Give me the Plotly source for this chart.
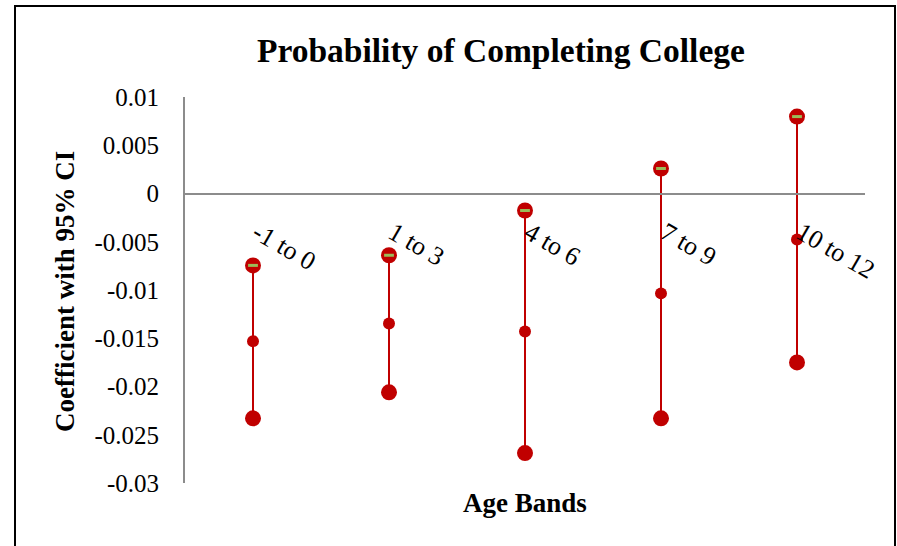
import plotly.graph_objects as go

# Age bands and the estimated coefficient with its 95% confidence interval
age_bands = ["-1 to 0", "1 to 3", "4 to 6", "7 to 9", "10 to 12"]
ci_upper = [-0.00745, -0.0064, -0.00176, 0.00259, 0.00797]
coef = [-0.0153, -0.01346, -0.01429, -0.01035, -0.00476]
ci_lower = [-0.0233, -0.0206, -0.0269, -0.0233, -0.0175]
y_ticks = [0.01, 0.005, 0, -0.005, -0.01, -0.015, -0.02, -0.025, -0.03]

RED = "#C00000"
SERIF = "Liberation Serif"

fig = go.Figure()

# vertical CI whiskers
xs, ys = [], []
for b, lo, hi in zip(age_bands, ci_lower, ci_upper):
    xs += [b, b, None]
    ys += [lo, hi, None]
fig.add_trace(go.Scatter(x=xs, y=ys, mode="lines", line=dict(color=RED, width=2),
                         hoverinfo="skip", showlegend=False))

fig.add_trace(go.Scatter(x=age_bands, y=ci_lower, mode="markers",
                         marker=dict(color=RED, size=16), name="Lower"))
fig.add_trace(go.Scatter(x=age_bands, y=coef, mode="markers",
                         marker=dict(color=RED, size=12), name="Coefficient"))
fig.add_trace(go.Scatter(x=age_bands, y=ci_upper, mode="markers",
                         marker=dict(color=RED, size=16), name="Upper"))
fig.add_trace(go.Scatter(x=age_bands, y=ci_upper, mode="markers",
                         marker=dict(symbol="line-ew", size=7,
                                     line=dict(color="#9BBB59", width=3)),
                         hoverinfo="skip", showlegend=False))

fig.update_layout(
    width=897, height=546,
    margin=dict(l=185, r=32, t=97, b=63),
    paper_bgcolor="white", plot_bgcolor="white",
    showlegend=False,
    font=dict(family=SERIF, color="black"),
    xaxis=dict(
        type="category", categoryorder="array", categoryarray=age_bands,
        range=[-0.5, len(age_bands) - 0.5],
        anchor="free", position=0.75,
        showline=True, linecolor="#8C8C8C", linewidth=2,
        showgrid=False, zeroline=False, ticks="",
        tickangle=30, tickfont=dict(size=26, family=SERIF),
        ticklabelstandoff=13, ticklabelshift=4,
    ),
    yaxis=dict(
        range=[-0.03, 0.01], tickvals=y_ticks,
        ticktext=[f"{v:g}" for v in y_ticks],
        showline=True, linecolor="#8C8C8C", linewidth=2,
        showgrid=False, zeroline=False, ticks="",
        tickfont=dict(size=25, family=SERIF),
        ticklabelstandoff=19,
    ),
)

fig.add_annotation(text="<b>Probability of Completing College</b>", xref="paper", yref="paper",
                   x=0.465, y=1, yshift=47, yanchor="middle", showarrow=False,
                   font=dict(size=33.5, family=SERIF))
fig.add_annotation(text="<b>Coefficient with 95% CI</b>", xref="paper", yref="paper",
                   x=0, xshift=-120, xanchor="center", y=0.5, yshift=-2, showarrow=False,
                   textangle=-90, font=dict(size=27, family=SERIF))
fig.add_annotation(text="<b>Age Bands</b>", xref="paper", yref="paper",
                   x=0.5, y=0, yshift=-20, yanchor="middle", showarrow=False,
                   font=dict(size=27, family=SERIF))

# chart border
fig.add_shape(type="rect", xref="paper", yref="paper",
              x0=-170 / 680, x1=1 + 30 / 680, y0=-120 / 386, y1=1 + 91 / 386,
              line=dict(color="black", width=2), layer="below")

fig.write_html("out.html")
